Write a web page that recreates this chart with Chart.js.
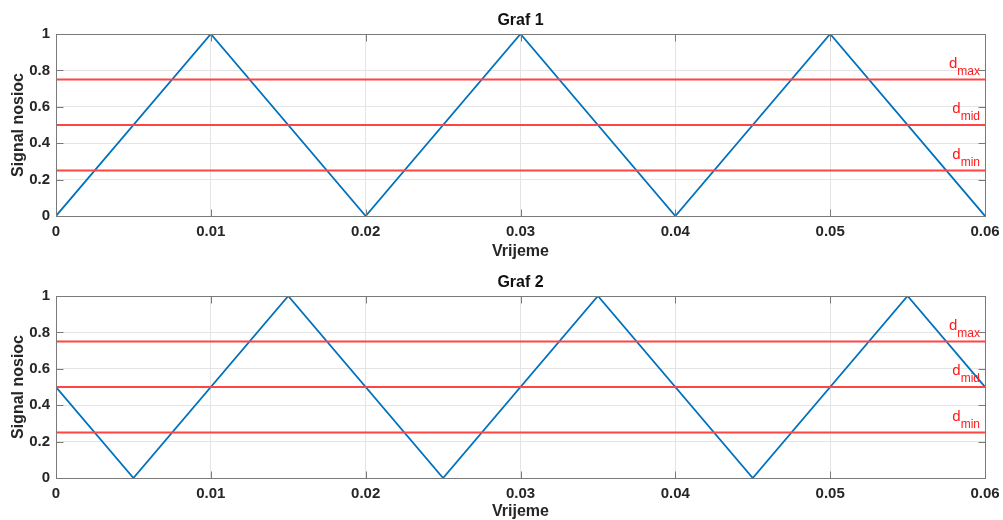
<!DOCTYPE html>
<html>
<head>
<meta charset="utf-8">
<script src="https://cdn.jsdelivr.net/npm/chart.js@4.4.1/dist/chart.umd.min.js"></script>
<style>
  html, body { margin: 0; padding: 0; background: #fff; overflow: hidden; }
  canvas { position: absolute; left: 0; }
</style>
</head>
<body>
<canvas id="graf1" width="1003" height="260" style="top:0px"></canvas>
<canvas id="graf2" width="1003" height="258" style="top:262px"></canvas>
<script>
// nosioc signali (trokut) za oba grafa
let vrijeme1 = [0, 0.01, 0.02, 0.03, 0.04, 0.05, 0.06];
let signal1 = [0, 1, 0, 1, 0, 1, 0];
let vrijeme2 = [0, 0.005, 0.015, 0.025, 0.035, 0.045, 0.055, 0.06];
let signal2 = [0.5, 0, 1, 0, 1, 0, 1, 0.5];

// razine d_max, d_mid, d_min
let razine = [0.75, 0.5, 0.25];
let razineOznake = ["max", "mid", "min"];

let xTicks = [0, 0.01, 0.02, 0.03, 0.04, 0.05, 0.06];
let xTickLabels = ["0", "0.01", "0.02", "0.03", "0.04", "0.05", "0.06"];
let yTicks = [0, 0.2, 0.4, 0.6, 0.8, 1];
let yTickLabels = ["0", "0.2", "0.4", "0.6", "0.8", "1"];

const FONT = '"Liberation Sans", Arial, sans-serif';
const OKVIR = "#7a7a7a";
Chart.defaults.font.family = FONT;
Chart.defaults.color = "#262626";

// okvir, unutarnje crtice, naslov i oznake razina
const okvirPlugin = {
    id: "okvir",
    afterDatasetsDraw(chart, args, opts) {
        const {ctx, chartArea: a, scales: {x, y}} = chart;
        const L = Math.round(a.left) + 0.5, R = Math.round(a.right) + 0.5;
        const T = Math.round(a.top) + 0.5, B = Math.round(a.bottom) + 0.5;
        ctx.save();
        ctx.strokeStyle = OKVIR;
        ctx.lineWidth = 1;
        ctx.beginPath();
        xTicks.forEach(v => {
            let px = Math.round(x.getPixelForValue(v)) + 0.5;
            ctx.moveTo(px, B); ctx.lineTo(px, B - 7);
            ctx.moveTo(px, T); ctx.lineTo(px, T + 7);
        });
        yTicks.forEach(v => {
            let py = Math.round(y.getPixelForValue(v)) + 0.5;
            ctx.moveTo(L, py); ctx.lineTo(L + 7, py);
            ctx.moveTo(R, py); ctx.lineTo(R - 7, py);
        });
        ctx.stroke();
        ctx.strokeRect(L, T, R - L, B - T);

        // naslov
        ctx.fillStyle = "#111";
        ctx.font = "bold 16px " + FONT;
        ctx.textAlign = "center";
        ctx.textBaseline = "middle";
        ctx.fillText(opts.naslov, (a.left + a.right) / 2, 21);

        // d_max, d_mid, d_min
        ctx.fillStyle = "#ff1a1a";
        ctx.textAlign = "left";
        ctx.textBaseline = "alphabetic";
        const desno = a.right - 5;
        razine.forEach((r, i) => {
            let py = y.getPixelForValue(r);
            ctx.font = "12px " + FONT;
            let w2 = ctx.measureText(razineOznake[i]).width;
            ctx.fillText(razineOznake[i], desno - w2, py - 5);
            ctx.font = "15px " + FONT;
            let w1 = ctx.measureText("d").width;
            ctx.fillText("d", desno - w2 - w1, py - 12);
        });
        ctx.restore();
    }
};

function napraviGraf(id, naslov, vrijeme, signal, visinaX) {
    let datasets = razine.map(r => ({
        data: [{x: 0, y: r}, {x: 0.06, y: r}],
        borderColor: "#ff4444",
        borderWidth: 2,
        pointRadius: 0,
        order: 0
    }));
    datasets.push({
        data: vrijeme.map((t, i) => ({x: t, y: signal[i]})),
        borderColor: "#0072bd",
        borderWidth: 1.8,
        pointRadius: 0,
        tension: 0,
        order: 1
    });

    new Chart(document.getElementById(id).getContext("2d"), {
        type: "line",
        data: {datasets: datasets},
        options: {
            responsive: false,
            animation: false,
            devicePixelRatio: 1,
            layout: {padding: {top: 34, right: 18, left: 0, bottom: 0}},
            plugins: {
                legend: {display: false},
                tooltip: {enabled: false},
                okvir: {naslov: naslov}
            },
            scales: {
                x: {
                    type: "linear",
                    min: 0,
                    max: 0.06,
                    afterBuildTicks: s => { s.ticks = xTicks.map(v => ({value: v})); },
                    afterFit: s => { s.height = visinaX; s.paddingLeft = 0; s.paddingRight = 0; },
                    ticks: {
                        autoSkip: false,
                        maxRotation: 0,
                        padding: 7,
                        font: {size: 15, weight: "bold"},
                        callback: (v, i) => xTickLabels[i]
                    },
                    grid: {color: "#e4e4e4", drawTicks: false},
                    border: {display: false},
                    title: {
                        display: true,
                        text: "Vrijeme",
                        font: {size: 16, weight: "bold", lineHeight: 1},
                        padding: {top: 0, bottom: 0}
                    }
                },
                y: {
                    min: 0,
                    max: 1,
                    afterBuildTicks: s => { s.ticks = yTicks.map(v => ({value: v})); },
                    afterFit: s => { s.width = 56; },
                    ticks: {
                        padding: 6,
                        font: {size: 15, weight: "bold"},
                        callback: (v, i) => yTickLabels[i]
                    },
                    grid: {color: "#e4e4e4", drawTicks: false},
                    border: {display: false},
                    title: {
                        display: true,
                        text: "Signal nosioc",
                        font: {size: 16, weight: "bold", lineHeight: 1},
                        padding: {top: 11, bottom: 0}
                    }
                }
            }
        },
        plugins: [okvirPlugin]
    });
}

napraviGraf("graf1", "Graf 1", vrijeme1, signal1, 44);
napraviGraf("graf2", "Graf 2", vrijeme2, signal2, 42);
</script>
</body>
</html>
